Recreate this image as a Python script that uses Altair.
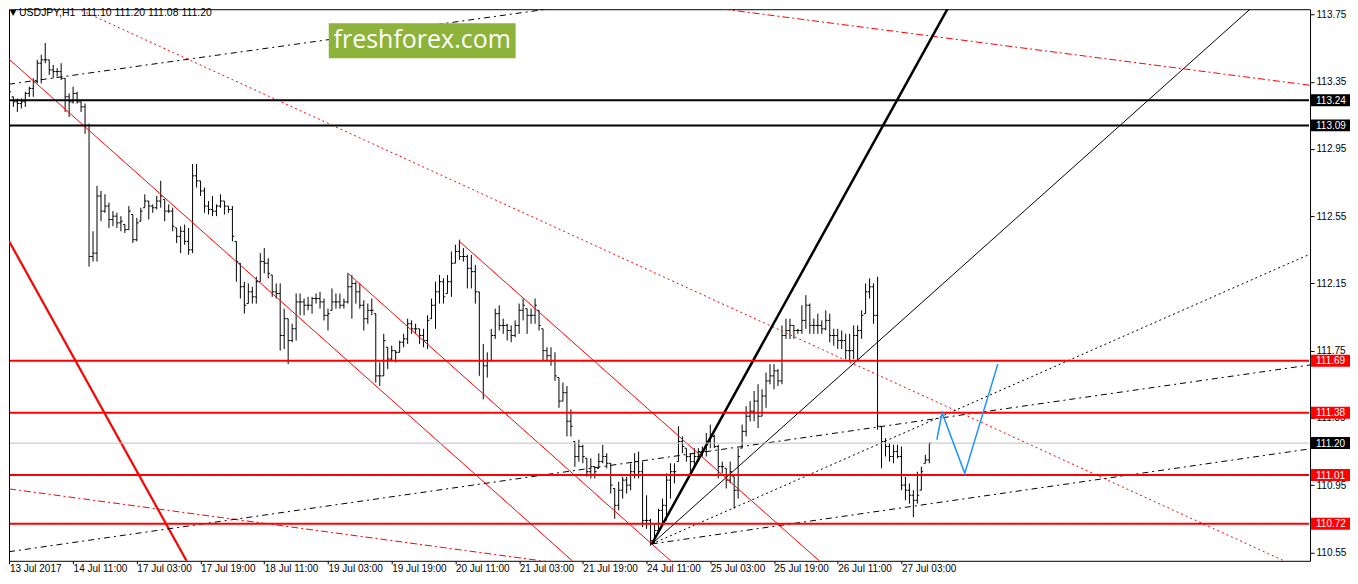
import altair as alt
import pandas as pd

# ---------------- OHLC data (H1 bars) ----------------
highs = [
    113.39, 113.26, 113.25, 113.25, 113.29, 113.32, 113.37, 113.48, 113.51, 113.58,
    113.48, 113.45, 113.43, 113.46, 113.37, 113.28, 113.32, 113.29, 113.23, 113.22,
    113.10, 112.46, 112.73, 112.70, 112.68, 112.63, 112.58, 112.57, 112.55, 112.50,
    112.61, 112.56, 112.54, 112.60, 112.68, 112.64, 112.62, 112.67, 112.76, 112.65,
    112.62, 112.60, 112.48, 112.49, 112.50, 112.48, 112.86, 112.86, 112.76, 112.72,
    112.64, 112.67, 112.62, 112.68, 112.64, 112.61, 112.61, 112.40, 112.27, 112.16,
    112.15, 112.13, 112.19, 112.33, 112.36, 112.30, 112.20, 112.15, 112.15, 112.00,
    111.94, 111.91, 112.09, 112.09, 112.06, 112.07, 112.07, 112.09, 112.10, 112.06,
    112.00, 112.12, 112.09, 112.09, 112.06, 112.21, 112.20, 112.16, 112.15, 112.05,
    112.03, 112.06, 111.97, 111.68, 111.85, 111.77, 111.78, 111.75, 111.81, 111.85,
    111.94, 111.93, 111.91, 111.88, 111.88, 111.96, 112.06, 112.16, 112.20, 112.18,
    112.20, 112.34, 112.38, 112.41, 112.36, 112.32, 112.32, 112.26, 112.10, 111.79,
    111.74, 111.88, 112.00, 112.02, 111.94, 111.91, 111.90, 111.93, 112.03, 112.06,
    112.00, 112.00, 112.06, 111.99, 111.88, 111.77, 111.77, 111.74, 111.59, 111.56,
    111.54, 111.40, 111.21, 111.22, 111.19, 111.11, 111.11, 111.06, 111.14, 111.19,
    111.14, 111.08, 110.93, 110.97, 111.00, 111.00, 111.08, 111.14, 111.15, 111.09,
    110.89, 110.75, 110.72, 110.81, 110.87, 111.02, 111.08, 111.08, 111.30, 111.24,
    111.17, 111.14, 111.17, 111.17, 111.18, 111.26, 111.31, 111.25, 111.19, 111.09,
    111.05, 111.09, 111.00, 111.17, 111.31, 111.42, 111.45, 111.51, 111.55, 111.52,
    111.62, 111.67, 111.67, 111.64, 111.90, 111.94, 111.94, 111.90, 111.88, 112.02,
    112.08, 112.03, 111.94, 111.97, 111.93, 111.99, 111.97, 111.88, 111.88, 111.87,
    111.85, 111.85, 111.90, 111.90, 111.99, 112.15, 112.18, 112.15, 112.19, 111.30,
    111.23, 111.20, 111.19, 111.19, 111.18, 111.00, 110.96, 110.92, 111.03, 111.06,
    111.13, 111.20,
]
lows = [
    113.28, 113.20, 113.17, 113.19, 113.20, 113.26, 113.26, 113.34, 113.34, 113.46,
    113.39, 113.37, 113.38, 113.36, 113.17, 113.14, 113.22, 113.22, 113.17, 113.04,
    112.25, 112.28, 112.28, 112.52, 112.57, 112.48, 112.49, 112.48, 112.46, 112.45,
    112.47, 112.39, 112.40, 112.52, 112.60, 112.53, 112.57, 112.59, 112.60, 112.52,
    112.57, 112.46, 112.39, 112.33, 112.38, 112.32, 112.33, 112.72, 112.67, 112.57,
    112.56, 112.55, 112.55, 112.60, 112.56, 112.57, 112.40, 112.16, 112.06, 111.97,
    112.03, 112.03, 112.03, 112.16, 112.21, 112.18, 112.07, 112.06, 111.75, 111.76,
    111.67, 111.80, 111.81, 111.96, 111.96, 111.99, 111.97, 112.03, 112.00, 111.93,
    111.87, 111.99, 112.00, 112.00, 112.00, 112.03, 111.94, 112.03, 112.00, 111.87,
    111.91, 111.96, 111.56, 111.54, 111.60, 111.64, 111.69, 111.68, 111.74, 111.77,
    111.79, 111.85, 111.85, 111.79, 111.77, 111.76, 111.94, 111.88, 112.03, 112.03,
    112.09, 112.07, 112.27, 112.29, 112.28, 112.12, 112.12, 112.03, 111.60, 111.46,
    111.59, 111.69, 111.82, 111.87, 111.85, 111.81, 111.80, 111.83, 111.85, 111.93,
    111.85, 111.91, 111.91, 111.87, 111.69, 111.69, 111.66, 111.57, 111.41, 111.45,
    111.24, 111.24, 111.06, 111.09, 111.08, 111.00, 110.99, 110.99, 111.05, 111.08,
    111.05, 110.90, 110.75, 110.80, 110.87, 110.90, 110.92, 110.99, 110.99, 110.70,
    110.69, 110.59, 110.60, 110.66, 110.71, 110.74, 110.87, 110.96, 111.09, 111.14,
    111.09, 111.03, 111.05, 111.09, 111.12, 111.12, 111.17, 111.17, 110.99, 111.02,
    110.93, 110.96, 110.81, 110.87, 111.17, 111.24, 111.33, 111.33, 111.29, 111.36,
    111.41, 111.55, 111.52, 111.54, 111.55, 111.82, 111.82, 111.82, 111.85, 111.85,
    111.88, 111.85, 111.85, 111.85, 111.85, 111.87, 111.80, 111.78, 111.76, 111.76,
    111.70, 111.69, 111.70, 111.69, 111.82, 111.97, 112.06, 111.91, 111.28, 111.05,
    111.12, 111.09, 111.08, 111.11, 110.92, 110.86, 110.84, 110.76, 110.84, 110.92,
    111.08, 111.08,
]
opens = [
    113.35, 113.26, 113.23, 113.22, 113.23, 113.28, 113.31, 113.35, 113.46, 113.48,
    113.48, 113.42, 113.41, 113.41, 113.37, 113.26, 113.23, 113.28, 113.23, 113.20,
    113.09, 112.31, 112.33, 112.67, 112.58, 112.61, 112.53, 112.55, 112.51, 112.50,
    112.47, 112.56, 112.41, 112.52, 112.60, 112.64, 112.61, 112.60, 112.64, 112.65,
    112.58, 112.58, 112.48, 112.43, 112.46, 112.40, 112.35, 112.79, 112.76, 112.70,
    112.61, 112.59, 112.58, 112.61, 112.64, 112.61, 112.59, 112.40, 112.27, 112.13,
    112.03, 112.10, 112.07, 112.16, 112.28, 112.27, 112.20, 112.10, 112.09, 111.84,
    111.94, 111.81, 111.88, 112.04, 112.04, 112.02, 112.02, 112.06, 112.06, 112.04,
    111.96, 111.99, 112.04, 112.04, 112.02, 112.04, 112.13, 112.15, 112.10, 112.02,
    111.94, 111.99, 111.97, 111.60, 111.60, 111.77, 111.70, 111.75, 111.74, 111.80,
    111.82, 111.91, 111.88, 111.88, 111.84, 111.81, 111.94, 112.02, 112.10, 112.16,
    112.09, 112.16, 112.27, 112.34, 112.31, 112.31, 112.24, 112.22, 112.10, 111.69,
    111.66, 111.69, 111.84, 111.97, 111.90, 111.90, 111.87, 111.84, 111.90, 111.99,
    112.00, 111.96, 111.96, 111.99, 111.88, 111.75, 111.72, 111.69, 111.59, 111.45,
    111.50, 111.33, 111.21, 111.12, 111.18, 111.11, 111.03, 111.06, 111.05, 111.09,
    111.12, 111.08, 110.93, 110.83, 110.92, 110.98, 110.95, 111.03, 111.09, 111.03,
    110.74, 110.74, 110.62, 110.68, 110.80, 110.83, 110.98, 111.03, 111.09, 111.21,
    111.17, 111.12, 111.09, 111.12, 111.15, 111.15, 111.21, 111.24, 111.18, 111.06,
    111.05, 110.98, 111.00, 110.92, 111.17, 111.27, 111.36, 111.39, 111.45, 111.36,
    111.48, 111.57, 111.60, 111.63, 111.57, 111.84, 111.87, 111.90, 111.87, 111.87,
    111.93, 112.02, 111.90, 111.90, 111.90, 111.88, 111.93, 111.84, 111.84, 111.81,
    111.81, 111.75, 111.75, 111.84, 111.87, 111.97, 112.10, 112.13, 111.96, 111.30,
    111.21, 111.18, 111.12, 111.15, 111.12, 110.95, 110.92, 110.89, 110.86, 110.92,
    111.08, 111.10,
]
closes = [
    113.29, 113.23, 113.22, 113.23, 113.28, 113.31, 113.35, 113.46, 113.48, 113.48,
    113.42, 113.41, 113.41, 113.37, 113.26, 113.23, 113.28, 113.23, 113.20, 113.09,
    112.31, 112.33, 112.67, 112.58, 112.61, 112.53, 112.55, 112.51, 112.52, 112.47,
    112.58, 112.41, 112.51, 112.58, 112.64, 112.61, 112.60, 112.64, 112.67, 112.58,
    112.58, 112.49, 112.43, 112.46, 112.40, 112.35, 112.79, 112.76, 112.70, 112.61,
    112.59, 112.58, 112.61, 112.64, 112.61, 112.59, 112.43, 112.28, 112.13, 112.02,
    112.10, 112.07, 112.16, 112.28, 112.27, 112.21, 112.10, 112.09, 111.84, 111.94,
    111.81, 111.88, 112.04, 112.04, 112.02, 112.02, 112.06, 112.06, 112.04, 111.96,
    111.97, 112.04, 112.04, 112.02, 112.04, 112.13, 112.15, 112.10, 112.02, 111.94,
    111.99, 111.99, 111.60, 111.60, 111.81, 111.70, 111.75, 111.74, 111.80, 111.82,
    111.91, 111.88, 111.88, 111.84, 111.81, 111.93, 112.02, 112.10, 112.16, 112.07,
    112.16, 112.27, 112.34, 112.31, 112.31, 112.24, 112.22, 112.10, 111.69, 111.66,
    111.69, 111.84, 111.97, 111.90, 111.90, 111.87, 111.84, 111.90, 111.99, 112.02,
    111.96, 111.96, 112.02, 111.90, 111.75, 111.72, 111.69, 111.60, 111.45, 111.50,
    111.33, 111.30, 111.12, 111.18, 111.12, 111.03, 111.06, 111.03, 111.09, 111.12,
    111.08, 110.95, 110.83, 110.92, 110.98, 110.95, 111.03, 111.09, 111.03, 110.74,
    110.74, 110.62, 110.68, 110.80, 110.83, 110.98, 111.03, 111.03, 111.21, 111.18,
    111.12, 111.09, 111.12, 111.15, 111.15, 111.21, 111.24, 111.18, 111.06, 111.06,
    110.98, 111.03, 110.92, 111.12, 111.27, 111.36, 111.39, 111.45, 111.36, 111.48,
    111.57, 111.60, 111.63, 111.57, 111.84, 111.87, 111.90, 111.87, 111.87, 111.93,
    112.02, 111.90, 111.90, 111.90, 111.88, 111.93, 111.84, 111.84, 111.81, 111.81,
    111.75, 111.75, 111.84, 111.87, 111.96, 112.10, 112.13, 111.96, 111.30, 111.21,
    111.18, 111.12, 111.15, 111.12, 110.95, 110.92, 110.89, 110.86, 110.89, 111.03,
    111.10, 111.20,
]

# ---------------- axis ticks / labels ----------------
x_tick_bars = [0, 16, 32, 48, 64, 80, 96, 112, 128, 144, 160, 176, 192, 208, 224]
x_tick_labels = ["13 Jul 2017", "14 Jul 11:00", "17 Jul 03:00", "17 Jul 19:00",
                 "18 Jul 11:00", "19 Jul 03:00", "19 Jul 19:00", "20 Jul 11:00",
                 "21 Jul 03:00", "21 Jul 19:00", "24 Jul 11:00", "25 Jul 03:00",
                 "25 Jul 19:00", "26 Jul 11:00", "27 Jul 03:00"]
y_ticks = [110.55, 110.75, 110.95, 111.15, 111.35, 111.55, 111.75, 111.95,
           112.15, 112.35, 112.55, 112.75, 112.95, 113.15, 113.35, 113.55, 113.75]

# ---------------- horizontal levels ----------------
level_prices = [113.24, 113.09, 111.69, 111.38, 111.01, 110.72]
level_colors = ["#000000", "#000000", "#ff0000", "#ff0000", "#ff0000", "#ff0000"]
current_price = [111.20]

# ---------------- trend lines (bar index, price) ----------------
red_solid_x1 = [-0.1, 84.9, 112.9]
red_solid_y1 = [113.484, 112.212, 112.402]
red_solid_x2 = [142.2, 166.9, 204.2]
red_solid_y2 = [110.482, 110.482, 110.482]

red_thick_x1, red_thick_y1, red_thick_x2, red_thick_y2 = [-0.1], [112.402], [44.9], [110.482]

red_dot_x1, red_dot_y1, red_dot_x2, red_dot_y2 = [14.7], [113.81], [321.7], [110.482]

red_dashdot_x1 = [171.7, -0.1]
red_dashdot_y1 = [113.805, 110.928]
red_dashdot_x2 = [328.4, 139.2]
red_dashdot_y2 = [113.323, 110.482]

blk_dashdot_x1 = [-0.1, -0.1, 161.3]
blk_dashdot_y1 = [113.335, 110.554, 110.60]
blk_dashdot_x2 = [140.4, 328.4, 328.4]
blk_dashdot_y2 = [113.799, 111.671, 111.172]

fan_origin_x, fan_origin_y = [161.3], [110.60]
fan_thick_x2, fan_thick_y2 = [236.2], [113.81]
fan_thin_x2, fan_thin_y2 = [312.9], [113.81]
fan_dot_x2, fan_dot_y2 = [328.4], [112.343]

blue_x = [232.9, 234.2, 239.9, 248.2]
blue_y = [111.22, 111.38, 111.02, 111.67]

# ---------------- build chart ----------------
W, H = 1302, 552
FONT = "Liberation Sans"
xs = alt.Scale(domain=[-0.1, 326.6], nice=False, zero=False)
ys = alt.Scale(domain=[110.500, 113.781], nice=False, zero=False)
HALF = 6.0 / 168.25   # half-height of a price label box, in price units

def X(f):
    return alt.X(f, type="quantitative", scale=xs, title=None)

def Y(f):
    return alt.Y(f, type="quantitative", scale=ys, title=None)

bars = pd.DataFrame({"i": list(range(len(highs))), "o": opens, "h": highs,
                     "l": lows, "c": closes})
bars["il"] = bars["i"] - 0.45
bars["ir"] = bars["i"] + 0.45

label_expr = "[" + ",".join("'%s'" % s for s in x_tick_labels) + "][round(datum.value/16)]"

x_axis = alt.Axis(values=x_tick_bars, labelExpr=label_expr, title=None, grid=False,
                  domain=False, tickSize=3, tickColor="black", labelAlign="left",
                  labelBaseline="top", labelPadding=0, labelFontSize=10, labelFont=FONT,
                  labelColor="black", labelOverlap=False, labelFlush=False,
                  labelBound=False, zindex=0)
y_axis = alt.Axis(orient="right", values=y_ticks, format=".2f", title=None, grid=False,
                  domain=False, tickSize=4, tickColor="black", labelPadding=2,
                  labelFontSize=10, labelFont=FONT, labelColor="black",
                  labelOverlap=False, labelFlush=False, labelBound=False, zindex=0)

hl = alt.Chart(bars).mark_rule(color="black", strokeWidth=1, clip=True).encode(
    x=alt.X("i:Q", scale=xs, axis=x_axis),
    y=alt.Y("l:Q", scale=ys, axis=y_axis),
    y2="h:Q",
)
ot = alt.Chart(bars).mark_rule(color="black", strokeWidth=1, clip=True).encode(
    x=X("il"), x2="i:Q", y=Y("o"))
ct = alt.Chart(bars).mark_rule(color="black", strokeWidth=1, clip=True).encode(
    x=X("i"), x2="ir:Q", y=Y("c"))

def segs(x1, y1, x2, y2, color, width, dash=None):
    df = pd.DataFrame({"x1": x1, "y1": y1, "x2": x2, "y2": y2})
    kw = dict(color=color, strokeWidth=width, clip=True)
    if dash:
        kw["strokeDash"] = dash
    return alt.Chart(df).mark_rule(**kw).encode(
        x=X("x1"), y=Y("y1"), x2="x2:Q", y2="y2:Q")

layers = [hl, ot, ct]
layers.append(segs(red_solid_x1, red_solid_y1, red_solid_x2, red_solid_y2, "#ff0000", 1))
layers.append(segs(red_thick_x1, red_thick_y1, red_thick_x2, red_thick_y2, "#ff0000", 2.2))
layers.append(segs(red_dot_x1, red_dot_y1, red_dot_x2, red_dot_y2, "#ff0000", 1, [2, 3]))
layers.append(segs(red_dashdot_x1, red_dashdot_y1, red_dashdot_x2, red_dashdot_y2,
                   "#ff0000", 1, [7, 3, 2, 3]))
layers.append(segs(blk_dashdot_x1, blk_dashdot_y1, blk_dashdot_x2, blk_dashdot_y2,
                   "#000000", 1, [6, 4, 2, 4]))
layers.append(segs(fan_origin_x, fan_origin_y, fan_thick_x2, fan_thick_y2, "#000000", 2.5))
layers.append(segs(fan_origin_x, fan_origin_y, fan_thin_x2, fan_thin_y2, "#000000", 1))
layers.append(segs(fan_origin_x, fan_origin_y, fan_dot_x2, fan_dot_y2, "#000000", 1, [2, 3]))

# current price line
cur_df = pd.DataFrame({"p": current_price})
layers.append(alt.Chart(cur_df).mark_rule(color="#c0c0c0", strokeWidth=1).encode(
    y=Y("p"), x=alt.value(1), x2=alt.value(W - 1)))

# level lines
lev_df = pd.DataFrame({"p": level_prices, "col": level_colors})
layers.append(alt.Chart(lev_df).mark_rule(strokeWidth=2).encode(
    y=Y("p"), x=alt.value(1), x2=alt.value(W - 1),
    color=alt.Color("col:N", scale=None)))

# blue projection
blue_df = pd.DataFrame({"x": blue_x, "y": blue_y, "k": list(range(len(blue_x)))})
layers.append(alt.Chart(blue_df).mark_line(color="#1e90ff", strokeWidth=1.5, clip=True).encode(
    x=X("x"), y=Y("y"), order="k:Q"))

# price labels on the right axis
lab_df = pd.DataFrame({"p": level_prices + current_price,
                       "col": level_colors + ["#000000"]})
lab_df["t"] = lab_df["p"].map(lambda v: "%.2f" % v)
lab_df["lo"] = lab_df["p"] - HALF
lab_df["hi"] = lab_df["p"] + HALF
layers.append(alt.Chart(lab_df).mark_rect().encode(
    y=Y("lo"), y2="hi:Q", x=alt.value(W + 1), x2=alt.value(W + 40),
    color=alt.Color("col:N", scale=None)))
layers.append(alt.Chart(lab_df).mark_text(
    align="left", baseline="middle", color="white", font=FONT, fontSize=10, dy=0.5).encode(
    y=Y("p"), x=alt.value(W + 6), text="t:N"))

# header text
hdr = pd.DataFrame({"t": ["\u25bc"], "u": ["USDJPY,H1\u00a0\u00a0111.10 111.20 111.08 111.20"]})
layers.append(alt.Chart(hdr).mark_text(align="left", baseline="middle", fontSize=8,
                                       font="DejaVu Sans", color="black").encode(
    x=alt.value(1), y=alt.value(4), text="t:N"))
layers.append(alt.Chart(hdr).mark_text(align="left", baseline="middle", fontSize=10.5,
                                       font=FONT, color="black").encode(
    x=alt.value(10), y=alt.value(4), text="u:N"))

# logo
logo = pd.DataFrame({"t": ["freshforex.com"]})
layers.append(alt.Chart(logo).mark_rect(color="#8db33a").encode(
    x=alt.value(320), x2=alt.value(507), y=alt.value(14), y2=alt.value(49)))
layers.append(alt.Chart(logo).mark_text(align="center", baseline="middle", color="white",
                                        font="Open Sans", fontSize=25).encode(
    x=alt.value(413.5), y=alt.value(31), text="t:N"))

chart = alt.layer(*layers).properties(
    width=W, height=H,
    padding={"left": 0, "top": 0, "right": 0, "bottom": 0},
    background="white",
).configure_view(stroke="black", strokeWidth=1)

chart.save("out.html", embed_options={"renderer": "svg", "actions": False})
